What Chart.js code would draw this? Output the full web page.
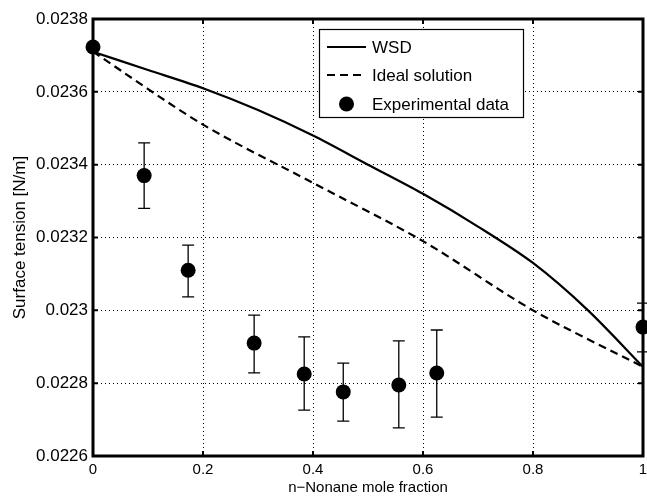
<!DOCTYPE html>
<html><head><meta charset="utf-8">
<script src="https://cdn.jsdelivr.net/npm/chart.js@4/dist/chart.umd.min.js"></script>
<style>html,body{margin:0;padding:0;background:#fff}#wrap{width:647px;height:497px;position:relative}</style>
</head><body><div id="wrap"><canvas id="c" width="647" height="497"></canvas></div>
<script>
const xTickValues = [0, 0.2, 0.4, 0.6, 0.8, 1];
const xTickLabels = ["0", "0.2", "0.4", "0.6", "0.8", "1"];
const yTickValues = [0.0226, 0.0228, 0.023, 0.0232, 0.0234, 0.0236, 0.0238];
const yTickLabels = ["0.0226", "0.0228", "0.023", "0.0232", "0.0234", "0.0236", "0.0238"];

const wsdX = [0, 0.1, 0.2, 0.3, 0.4, 0.5, 0.6, 0.7, 0.8, 0.9, 1];
const wsdY = [0.02371, 0.02366, 0.02361, 0.02355, 0.02348, 0.02340, 0.02332, 0.02323, 0.02313, 0.02300, 0.022845];

const idealX = [0, 0.2, 0.4, 0.6, 0.8, 1];
const idealY = [0.02371, 0.02351, 0.02335, 0.02319, 0.02300, 0.022845];

const expX = [0, 0.093, 0.173, 0.293, 0.384, 0.455, 0.556, 0.625, 1];
const expY = [0.023723, 0.02337, 0.02311, 0.02291, 0.022825, 0.022776, 0.022795, 0.022828, 0.022954];
const expLow = [null, 0.02328, 0.023037, 0.022828, 0.022726, 0.022696, 0.022677, 0.022707, 0.022886];
const expHigh = [null, 0.02346, 0.023179, 0.022987, 0.022927, 0.022855, 0.022916, 0.022946, 0.02302];

const seriesNames = ["WSD", "Ideal solution", "Experimental data"];

const FONT = '"Liberation Sans", Arial, Helvetica, sans-serif';

const toPts = (xs, ys) => xs.map((x, i) => ({x: x, y: ys[i]}));

const errorBars = {
  id: 'errorBars',
  afterDatasetsDraw(chart) {
    const {ctx, scales: {x, y}} = chart;
    ctx.save();
    ctx.strokeStyle = '#000';
    ctx.lineWidth = 1.3;
    expX.forEach((v, i) => {
      if (expLow[i] == null) return;
      const px = x.getPixelForValue(v);
      const pl = y.getPixelForValue(expLow[i]);
      const ph = y.getPixelForValue(expHigh[i]);
      ctx.beginPath();
      ctx.moveTo(px, pl); ctx.lineTo(px, ph);
      ctx.moveTo(px - 6, pl); ctx.lineTo(px + 6, pl);
      ctx.moveTo(px - 6, ph); ctx.lineTo(px + 6, ph);
      ctx.stroke();
    });
    ctx.restore();
  }
};

const frame = {
  id: 'frame',
  afterDraw(chart) {
    const {ctx, chartArea: a, scales: {x, y}} = chart;
    ctx.save();
    ctx.strokeStyle = '#000';
    ctx.lineWidth = 3;
    ctx.strokeRect(a.left, a.top, a.right - a.left, a.bottom - a.top);
    ctx.lineWidth = 2;
    const L = 5;
    ctx.beginPath();
    xTickValues.forEach(v => {
      const px = x.getPixelForValue(v);
      ctx.moveTo(px, a.bottom); ctx.lineTo(px, a.bottom - L);
      ctx.moveTo(px, a.top); ctx.lineTo(px, a.top + L);
    });
    yTickValues.forEach(v => {
      const py = y.getPixelForValue(v);
      ctx.moveTo(a.left, py); ctx.lineTo(a.left + L, py);
      ctx.moveTo(a.right, py); ctx.lineTo(a.right - L, py);
    });
    ctx.stroke();
    ctx.restore();
  }
};

const boxLegend = {
  id: 'boxLegend',
  afterDraw(chart) {
    const ctx = chart.ctx;
    const bx = 319.5, by = 29.5, bw = 204, bh = 88;
    ctx.save();
    ctx.fillStyle = '#fff';
    ctx.fillRect(bx, by, bw, bh);
    ctx.strokeStyle = '#000';
    ctx.lineWidth = 1.2;
    ctx.strokeRect(bx, by, bw, bh);
    const rows = [47, 75, 104];
    chart.data.datasets.forEach((ds, i) => {
      const ry = rows[i];
      ctx.strokeStyle = '#000';
      ctx.fillStyle = '#000';
      if (ds.showLine) {
        ctx.lineWidth = ds.borderWidth;
        ctx.setLineDash(ds.borderDash || []);
        ctx.beginPath();
        ctx.moveTo(327, ry); ctx.lineTo(366, ry);
        ctx.stroke();
        ctx.setLineDash([]);
      } else {
        ctx.beginPath();
        ctx.arc(346.5, ry, ds.pointRadius, 0, Math.PI * 2);
        ctx.fill();
      }
      ctx.font = '17px ' + FONT;
      ctx.textBaseline = 'middle';
      ctx.textAlign = 'left';
      ctx.fillText(ds.label, 372, ry + 1);
    });
    ctx.restore();
  }
};

new Chart(document.getElementById('c'), {
  type: 'scatter',
  data: {
    datasets: [
      {label: seriesNames[0], data: toPts(wsdX, wsdY), showLine: true, borderColor: '#000', borderWidth: 2.2, pointRadius: 0, tension: 0.3, fill: false},
      {label: seriesNames[1], data: toPts(idealX, idealY), showLine: true, borderColor: '#000', borderWidth: 2.2, borderDash: [8, 5], pointRadius: 0, tension: 0.3, fill: false},
      {label: seriesNames[2], data: toPts(expX, expY), showLine: false, pointRadius: 7.5, pointBackgroundColor: '#000', pointBorderWidth: 0, borderColor: '#000', clip: false}
    ]
  },
  options: {
    responsive: false,
    animation: false,
    devicePixelRatio: 1,
    layout: {autoPadding: false, padding: {top: 19, right: 4, left: 0, bottom: 0}},
    plugins: {legend: {display: false}, tooltip: {enabled: false}},
    scales: {
      x: {
        type: 'linear', min: 0, max: 1,
        afterFit: s => { s.height = 41; s.paddingLeft = 0; s.paddingRight = 0; },
        afterBuildTicks: s => { s.ticks = xTickValues.map(v => ({value: v})); },
        ticks: {
          autoSkip: false, maxRotation: 0, padding: 5, color: '#000',
          font: {family: FONT, size: 15},
          callback: (v) => { const i = xTickValues.findIndex(t => Math.abs(t - v) < 1e-9); return i >= 0 ? xTickLabels[i] : ''; }
        },
        grid: {color: '#000', lineWidth: 1, drawTicks: false},
        border: {display: false, dash: [1, 3]},
        title: {display: true, text: 'n\u2212Nonane mole fraction', color: '#000', font: {family: FONT, size: 15}, padding: {top: 0, bottom: 0}}
      },
      y: {
        type: 'linear', min: 0.0226, max: 0.0238,
        afterFit: s => { s.width = 93; s.paddingTop = 0; s.paddingBottom = 0; },
        afterBuildTicks: s => { s.ticks = yTickValues.map(v => ({value: v})); },
        ticks: {
          autoSkip: false, padding: 5, color: '#000',
          font: {family: FONT, size: 17},
          callback: (v) => { const i = yTickValues.findIndex(t => Math.abs(t - v) < 1e-9); return i >= 0 ? yTickLabels[i] : ''; }
        },
        grid: {color: '#000', lineWidth: 1, drawTicks: false},
        border: {display: false, dash: [1, 3]},
        title: {display: true, text: 'Surface tension [N/m]', color: '#000', font: {family: FONT, size: 17}, padding: {top: 10, bottom: 0}}
      }
    }
  },
  plugins: [errorBars, frame, boxLegend]
});
</script>
</body></html>
